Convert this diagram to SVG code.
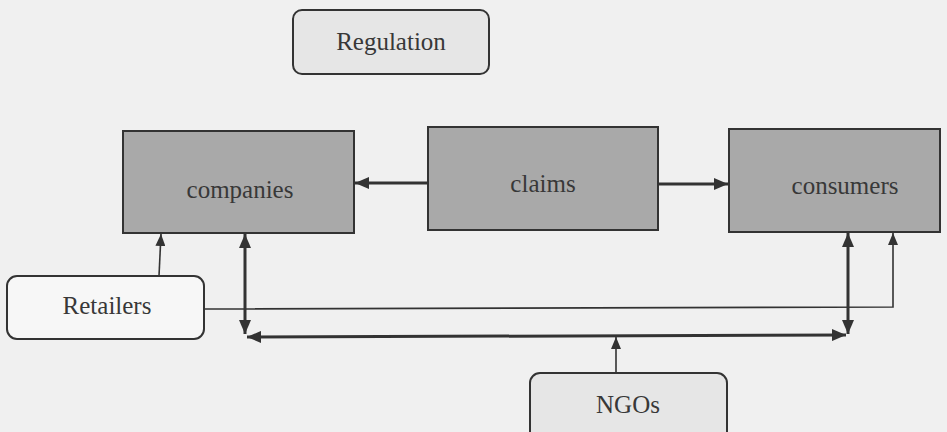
<svg xmlns="http://www.w3.org/2000/svg" width="947" height="432" viewBox="0 0 947 432">
  <style>
    .lbl { font-family: "Liberation Serif", "Times New Roman", serif; font-size: 25px; fill: #383838; text-anchor: middle; dominant-baseline: central; }
    .dark { fill: #a9a9a9; stroke: #333; stroke-width: 2; }
    .light { fill: #e6e6e6; stroke: #333; stroke-width: 2; }
    .white { fill: #f7f7f7; stroke: #333; stroke-width: 2; }
    .thick { fill: none; stroke: #333; stroke-width: 3; }
    .thin { fill: none; stroke: #333; stroke-width: 1.6; }
  </style>
  <defs>
    <marker id="head" viewBox="0 0 12 10" refX="12" refY="5" markerWidth="12" markerHeight="10" markerUnits="userSpaceOnUse" orient="auto-start-reverse">
      <path d="M0,0 L12,5 L0,10 Z" fill="#333"/>
    </marker>
    <marker id="headBig" viewBox="0 0 14 12" refX="14" refY="6" markerWidth="14" markerHeight="12" markerUnits="userSpaceOnUse" orient="auto-start-reverse">
      <path d="M0,0 L14,6 L0,12 Z" fill="#333"/>
    </marker>
  </defs>

  <rect width="947" height="432" fill="#f0f0f0"/>

  <g id="connectors">
    <!-- claims to companies / consumers -->
    <line class="thick" x1="428" y1="183" x2="355" y2="183" marker-end="url(#headBig)"/>
    <line class="thick" x1="658" y1="184" x2="728" y2="184" marker-end="url(#headBig)"/>
    <!-- retailers to companies -->
    <line class="thin" x1="159" y1="276" x2="161" y2="234" marker-end="url(#head)"/>
    <!-- retailers to consumers -->
    <polyline class="thin" points="204,309 893,307 893,233" marker-end="url(#head)"/>
    <!-- companies / consumers drops -->
    <line class="thick" x1="245" y1="234" x2="245" y2="334" marker-start="url(#headBig)" marker-end="url(#headBig)"/>
    <line class="thick" x1="848" y1="233" x2="848" y2="334" marker-start="url(#headBig)" marker-end="url(#headBig)"/>
    <!-- bottom bus -->
    <line class="thick" x1="247" y1="337" x2="846" y2="335" marker-start="url(#headBig)" marker-end="url(#headBig)"/>
    <!-- NGOs up to bus -->
    <line class="thin" x1="616" y1="373" x2="616" y2="337" marker-end="url(#head)"/>
  </g>

  <g id="regulation">
    <rect class="light" x="293" y="10" width="196" height="64" rx="9"/>
    <text class="lbl" x="391" y="41">Regulation</text>
  </g>

  <g id="companies">
    <rect class="dark" x="123" y="131" width="231" height="102"/>
    <text class="lbl" x="240" y="189">companies</text>
  </g>

  <g id="claims">
    <rect class="dark" x="428" y="127" width="230" height="103"/>
    <text class="lbl" x="543" y="183">claims</text>
  </g>

  <g id="consumers">
    <rect class="dark" x="729" y="129" width="211" height="103"/>
    <text class="lbl" x="845" y="185">consumers</text>
  </g>

  <g id="retailers">
    <rect class="white" x="7" y="276" width="197" height="63" rx="10"/>
    <text class="lbl" x="107" y="305">Retailers</text>
  </g>

  <g id="ngos">
    <rect class="light" x="530" y="373" width="197" height="70" rx="10"/>
    <text class="lbl" x="628" y="404">NGOs</text>
  </g>
</svg>
